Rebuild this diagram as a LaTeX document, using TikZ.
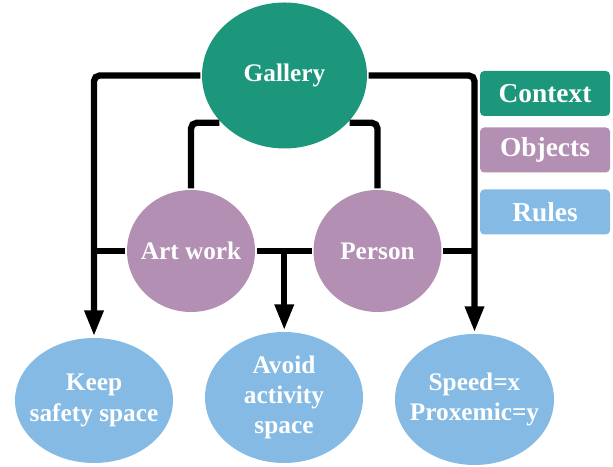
\documentclass[tikz,border=0pt]{standalone}
\usepackage{fontspec}
\setmainfont{Liberation Serif}
\usetikzlibrary{calc, arrows.meta, shapes.geometric}

\definecolor{ctxgreen}{HTML}{1C977C}
\definecolor{objpurple}{HTML}{B28FB3}
\definecolor{rulblue}{HTML}{84BAE3}

\begin{document}
\begin{tikzpicture}[
    blob/.style={ellipse, inner xsep=-1.5cm, inner ysep=-1cm, outer sep=1.2pt, text=white, align=center,
                 font=\fontsize{18}{21.5}\selectfont\bfseries},
    legend/.style={rectangle, rounded corners=3pt, minimum width=3.25cm, minimum height=1.125cm,
                   text=white, font=\fontsize{19.5}{22}\selectfont\bfseries},
    link/.style={line width=4.5pt, rounded corners=4pt},
    arr/.style={link, -{Triangle[length=0.65cm, width=0.45cm]}}]
  \useasboundingbox (0,0) rectangle (15.325,11.675);

  % 节点
  \node[blob, fill=ctxgreen, minimum width=4.125cm, minimum height=3.65cm] (gal) at (7.1125,9.7875) {Gallery};
  \node[blob, fill=objpurple, minimum width=3.2cm, minimum height=3.05cm] (art) at (4.775,5.4) {Art work};
  \node[blob, fill=objpurple, minimum width=3.2cm, minimum height=3.05cm] (person) at (9.4375,5.4) {Person};
  \node[blob, fill=rulblue, minimum width=3.95cm, minimum height=3.125cm] (keep) at (2.35,1.6625) {Keep\\safety space};
  \node[blob, fill=rulblue, minimum width=3.95cm, minimum height=3.275cm] (avoid) at (7.1,1.7375) {Avoid\\activity\\space};
  \node[blob, fill=rulblue, minimum width=3.975cm, minimum height=3.275cm] (speed) at (11.8625,1.6875) {Speed=x\\Proxemic=y};

  % 图例
  \node[legend, fill=ctxgreen]  (ctx) at (13.625,9.3375) {Context};
  \node[legend, fill=objpurple] (obj) at (13.625,7.925)  {Objects};
  \node[legend, fill=rulblue]   (rul) at (13.625,6.375)  {Rules};

  % 外侧连线
  \draw[arr] (gal.west) -| (keep.north);
  \draw[arr] (gal.east) -| (speed.north);
  \draw[link] (art.west) -- (art.west -| keep.north);
  \draw[link] (person.east) -- (person.east -| speed.north);

  % 内侧连线
  \draw[link] (art.north) |- (gal.216);
  \draw[link] (person.north) |- (gal.324);

  % 中间
  \draw[link] (art.east) -- (person.west);
  \coordinate (mid) at ($(art.east)!0.5!(person.west)$);
  \draw[arr] (mid) -- (mid |- avoid.north);
\end{tikzpicture}
\end{document}
